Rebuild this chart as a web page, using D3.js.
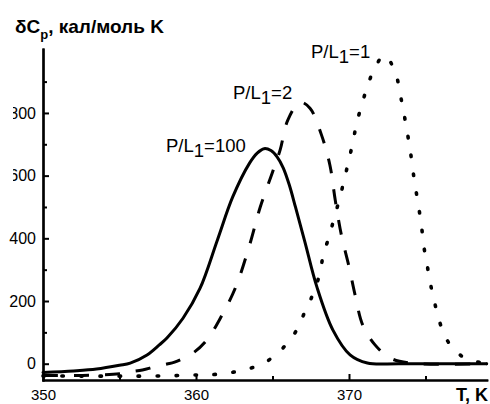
<!DOCTYPE html>
<html>
<head>
<meta charset="utf-8">
<script src="https://cdn.jsdelivr.net/npm/d3@7"></script>
<style>
html,body{margin:0;padding:0;background:#fff;}
svg{display:block;font-family:"Liberation Sans",Arial,sans-serif;}
</style>
</head>
<body>
<svg id="chart" width="490" height="404"></svg>
<script>
// Data
const solidT = [350, 352, 353.5, 355, 355.7, 356.8, 357.6, 358.1, 359.15, 360.26, 361.4, 362.4, 363.5, 364.0, 364.45, 364.9, 365.3, 365.7, 366.1, 366.5, 367.12, 367.9, 368.95, 370.07, 371.2, 373.3, 379];
const solidV = [-28, -23, -17, -5, 2, 28, 60, 82, 145, 240, 395, 532, 640, 672, 686, 680, 660, 625, 570, 500, 388, 245, 107, 28, 2, 0, 0];

const dashT = [350, 353, 355, 355.7, 356.5, 357.3, 358.1, 358.6, 359.8, 360.7, 361.7, 362.6, 363.5, 364.2, 365, 365.5, 366.0, 366.8, 367.45, 368.2, 368.75, 369.1, 369.5, 370.0, 370.4, 370.9, 371.7, 372.7, 374, 379];
const dashV = [-38, -37, -32, -26, -20, -10, -1, 5, 34, 75, 155, 245, 378, 500, 611, 682, 777, 834, 815, 730, 634, 522, 411, 310, 219, 123, 60, 18, 2, 0];

const dotT = [350, 358.1, 359.5, 360.6, 361.9, 363.09, 364.4, 365.6, 366.54, 367.12, 367.67, 368.1, 368.32, 368.71, 369.02, 369.37, 369.67, 369.95, 370.24, 370.5, 370.83, 371.2, 371.7, 372.3, 372.57, 373.12, 373.38, 373.61, 373.84, 374.03, 374.2, 374.38, 374.58, 374.75, 374.9, 375.12, 375.34, 375.62, 375.95, 376.49, 377.47, 378.74, 379];
const dotV = [-39, -39, -36, -36, -31, -20, 1, 46, 104, 166, 225, 289, 347, 407, 463, 524, 583, 641, 703, 767, 825, 884, 946, 984, 974, 914, 852, 793, 729, 671, 609, 552, 492, 434, 372, 311, 251, 190, 129, 69, 21, 2, 0];

const xMajor = [350, 360, 370];
const xMinor = [355, 365, 375];
const yMajor = [0, 200, 400, 600, 800];
const yMinor = [100, 300, 500, 700, 900];

const labels = [
  {main: "P/L", sub: "1", rest: "=100", x: 166, y: 152},
  {main: "P/L", sub: "1", rest: "=2", x: 233, y: 99},
  {main: "P/L", sub: "1", rest: "=1", x: 311, y: 58}
];

const svg = d3.select("#chart");
const x = d3.scaleLinear().domain([350, 379]).range([43, 486.7]);
const y = d3.scaleLinear().domain([-52, 1004]).range([380, 49]);

// clip for partially hidden tick labels (as in the reference); local coords of a y tick
svg.append("defs").append("clipPath").attr("id", "lblclip")
  .append("rect").attr("x", 13 - 43).attr("y", -20).attr("width", 40).attr("height", 40);

// curves
const line = d3.line().x(d => x(d[0])).y(d => y(d[1])).curve(d3.curveCatmullRom.alpha(0.5));
const series = [
  {T: solidT, V: solidV, dash: null, cap: "round", w: 3},
  {T: dashT, V: dashV, dash: "15 16", cap: "butt", w: 3},
  {T: dotT, V: dotV, dash: "1.5 17.5", cap: "round", w: 3.6}
];
series.forEach(s => {
  const pts = s.T.map((t, i) => [t, s.V[i]]);
  const p = svg.append("path").attr("d", line(pts))
    .attr("fill", "none").attr("stroke", "#000")
    .attr("stroke-width", s.w).attr("stroke-linecap", s.cap).attr("stroke-linejoin", "round");
  if (s.dash) p.attr("stroke-dasharray", s.dash);
});

// axes
const yAxis = d3.axisLeft(y).tickValues(yMajor).tickSizeInner(-6).tickSizeOuter(0).tickPadding(7).tickFormat(d3.format("d"));
const yAxisMinor = d3.axisLeft(y).tickValues(yMinor).tickSizeInner(-4).tickSizeOuter(0).tickFormat("");
const xAxis = d3.axisBottom(x).tickValues(xMajor).tickSizeInner(-6).tickSizeOuter(0).tickPadding(9).tickFormat(d3.format("d"));
const xAxisMinor = d3.axisBottom(x).tickValues(xMinor).tickSizeInner(-4).tickSizeOuter(0).tickFormat("");

function style(g, fs) {
  g.select(".domain").attr("stroke-width", 2.2).attr("stroke-linecap", "square");
  g.selectAll(".tick line").attr("stroke-width", 2);
  g.selectAll(".tick text").attr("font-size", fs).attr("font-family", "Liberation Sans, Arial, sans-serif").attr("fill", "#000");
}
svg.append("g").attr("transform", "translate(43,0)").call(yAxisMinor).call(g => style(g, 16));
svg.append("g").attr("transform", "translate(43,0)").call(yAxis).call(g => style(g, 16))
  .call(g => g.selectAll(".tick").filter(d => d >= 600).select("text")
    .attr("clip-path", "url(#lblclip)"));
svg.append("g").attr("transform", "translate(0,380)").call(xAxisMinor).call(g => style(g, 15));
svg.append("g").attr("transform", "translate(0,380)").call(xAxis).call(g => style(g, 15));

// title
const t = svg.append("text").attr("x", 15).attr("y", 33).attr("font-size", 19).attr("font-weight", "bold").attr("fill", "#000");
t.append("tspan").text("δC");
t.append("tspan").attr("font-size", 13).attr("dy", 6).text("p");
t.append("tspan").attr("dy", -6).text(", кал/моль K");

svg.append("text").attr("x", 488).attr("y", 401).attr("text-anchor", "end")
  .attr("font-size", 18).attr("font-weight", "bold").attr("fill", "#000").text("T, K");

// curve labels
labels.forEach(l => {
  const tx = svg.append("text").attr("x", l.x).attr("y", l.y).attr("font-size", 18.5).attr("fill", "#000");
  tx.append("tspan").text(l.main);
  tx.append("tspan").attr("dy", 5).text(l.sub);
  tx.append("tspan").attr("dy", -5).text(l.rest);
});
</script>
</body>
</html>
